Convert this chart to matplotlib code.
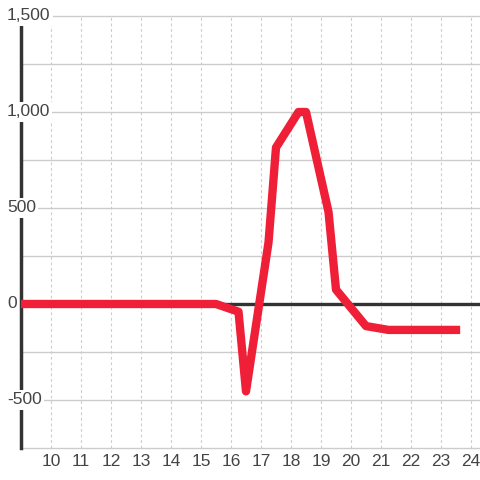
import matplotlib.pyplot as plt

plt.rcParams['font.family'] = ['Liberation Sans', 'DejaVu Sans']

hours = [9, 15.5, 16.25, 16.5, 17.25, 17.5, 18.25, 18.5, 19.25, 19.5, 20, 20.5, 21.25, 23.5]
values = [0, 0, -40, -455, 320, 815, 1000, 1000, 480, 75, -20, -115, -135, -135]

x_ticks = list(range(10, 25))
y_ticks = [-500, 0, 500, 1000, 1500]
y_labels = ['-500', '0', '500', '1,000', '1,500']

fig = plt.figure(figsize=(4.8, 4.8), dpi=100)
ax = fig.add_axes([21 / 480, 32 / 480, 459 / 480, 432 / 480])

ax.set_xlim(9, 24.3)
ax.set_ylim(-750, 1500)

# grid
for v in range(-750, 1501, 250):
    ax.axhline(v, color='#cccccc', lw=1, zorder=1, clip_on=False)
for h in x_ticks:
    ax.axvline(h, color='#cccccc', lw=0.8, ls=(0, (2.5, 2.5)), zorder=1)

ax.axhline(0, color='#333333', lw=2.4, zorder=2)

ax.plot(hours, values, color='#ee1f36', lw=6, zorder=4,
        solid_joinstyle='round', solid_capstyle='projecting')

for s in ['top', 'right', 'bottom']:
    ax.spines[s].set_visible(False)
ax.spines['left'].set_color('#333333')
ax.spines['left'].set_linewidth(2.5)
ax.spines['left'].set_bounds(-750, 1458)
ax.spines['left'].set_zorder(3)

ax.set_xticks(x_ticks)
ax.tick_params(axis='x', length=0, pad=4, labelsize=12.5, labelcolor='#444444')
ax.set_yticks([])

for v, lab in zip(y_ticks, y_labels):
    ax.text(9 - 14 / 30, v, lab, ha='left', va='center', fontsize=12.5,
            color='#444444', zorder=5, clip_on=False,
            bbox=dict(boxstyle='square,pad=0.12', fc='white', ec='none'))

fig.savefig('out.png', dpi=100)
